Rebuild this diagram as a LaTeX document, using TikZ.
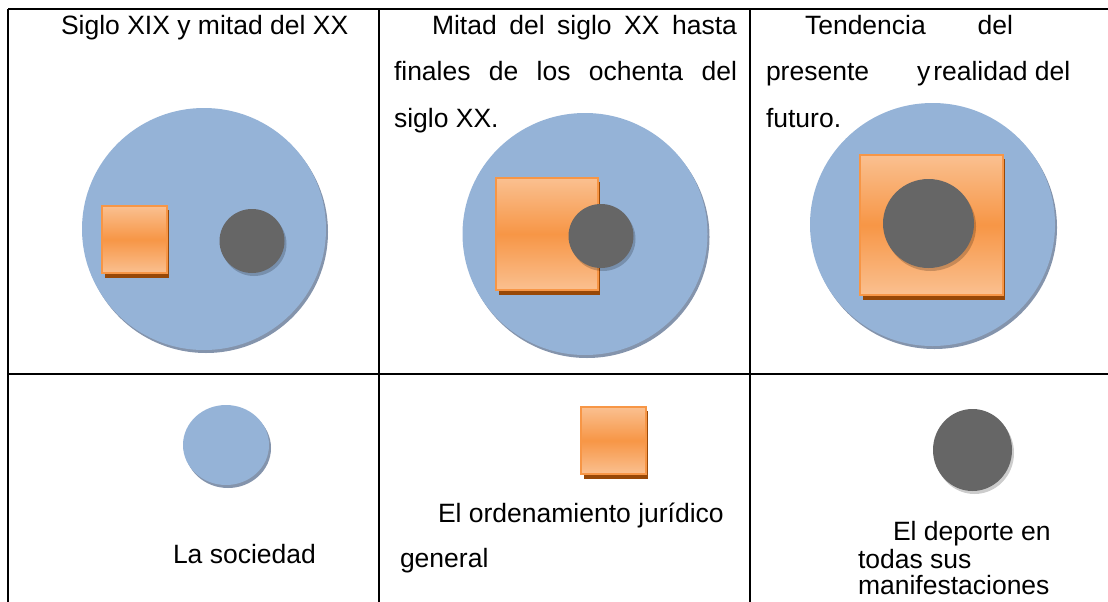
\documentclass[tikz,border=0pt]{standalone}
\usepackage{fontspec}
\setmainfont{Liberation Sans}
\definecolor{soc}{RGB}{149,179,215}
\definecolor{socsh}{RGB}{132,148,172}
\definecolor{orm}{RGB}{247,150,70}
\definecolor{orl}{RGB}{250,192,144}
\definecolor{orsh}{RGB}{152,72,7}
\definecolor{dep}{RGB}{102,102,102}
\newcommand{\ordbox}[4]{%
  \fill[orsh] (#1+3,#2+4) rectangle (#3+2,#4+5);
  \shade[top color=orl,bottom color=orl,middle color=orm,draw=orm,line width=1.5pt] (#1,#2) rectangle (#3,#4);}
\newcommand{\soccirc}[4]{%
  \fill[socsh] (#1+2,#2+3) ellipse [x radius=#3,y radius=#4];
  \fill[soc] (#1,#2) ellipse [x radius=#3,y radius=#4];}
\newcommand{\depcirc}[4]{%
  \fill[black,opacity=0.2] (#1+2,#2+3) ellipse [x radius=#3,y radius=#4];
  \fill[dep] (#1,#2) ellipse [x radius=#3,y radius=#4];}
\begin{document}
\begin{tikzpicture}[x=1pt,y=-1pt,
  txt/.style={anchor=base west,inner sep=0pt,outer sep=0pt,font=\fontsize{26.5}{30}\selectfont},
  gridline/.style={line width=2pt,black}]
\useasboundingbox (0,0) rectangle (1108,602);
% table
\draw[gridline] (8,9) -- (1108,9);
\draw[gridline] (8,374) -- (1108,374);
\draw[gridline] (8,9) -- (8,602);
\draw[gridline] (379,9) -- (379,602);
\draw[gridline] (750,9) -- (750,602);
% column 1
\soccirc{204}{229}{122}{121}
\ordbox{102}{206}{167}{273}
\depcirc{252}{241}{32.5}{32}
% column 2
\soccirc{585}{234}{122.5}{121}
\ordbox{496}{178}{598}{290}
\depcirc{601}{236}{32.5}{32}
% column 3
\soccirc{932.5}{224.5}{122.5}{121.5}
\ordbox{860}{155}{1003}{295}
\depcirc{928.5}{223.5}{45.5}{44.5}
% legend row
\soccirc{226}{445}{43}{40}
\ordbox{581}{407}{646}{474}
\depcirc{972.5}{450}{39.5}{41}
% texts
\node[txt] (t1) at (61,35) {Siglo XIX y mitad del XX};
\node[txt] (t2a) at (432,35) {\hbox to 305pt{Mitad\hfill del\hfill siglo\hfill XX\hfill hasta}};
\node[txt] (t2b) at (394,81) {\hbox to 343pt{finales\hfill de\hfill los\hfill ochenta\hfill del}};
\node[txt] (t2c) at (394,127) {siglo XX.};
\node[txt] (t3a) at (805,35) {\hbox to 208pt{Tendencia\hfill del}};
\node[txt] (t3b) at (766,81) {presente};
\node[txt] (t3c) at (917,81) {y\kern3pt realidad del};
\node[txt] (t3d) at (766,127) {futuro.};
\node[txt] (l1) at (173,563) {La sociedad};
\node[txt] (l2a) at (438,522) {El ordenamiento jurídico};
\node[txt] (l2b) at (400,567) {general};
\node[txt] (l3a) at (893,540) {El deporte en};
\node[txt] (l3b) at (858,568) {todas sus};
\node[txt] (l3c) at (858,594) {manifestaciones};
\end{tikzpicture}
\end{document}
